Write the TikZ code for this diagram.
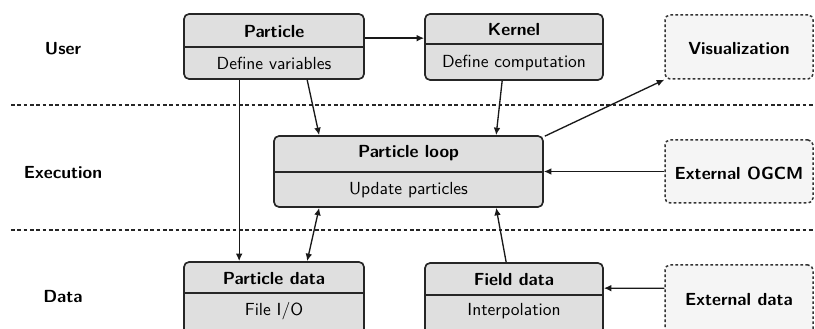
\documentclass[tikz,border=0pt]{standalone}
\usetikzlibrary{calc,arrows.meta}
\begin{document}
\begin{tikzpicture}[x=0.6pt,y=-0.6pt,
  mainbox/.style={draw=black!85,line width=1pt,rounded corners=3pt,fill=gray!25,inner sep=0pt},
  extbox/.style={draw=black!80,line width=0.9pt,dash pattern=on 1.6pt off 1.4pt,rounded corners=3pt,fill=gray!8,inner sep=0pt},
  divider/.style={draw=black!85,line width=1pt},
  title/.style={font=\fontsize{10.5}{12}\selectfont\sffamily\bfseries,inner sep=0pt},
  sub/.style={font=\fontsize{10.5}{12}\selectfont\sffamily,inner sep=0pt},
  lane/.style={font=\fontsize{10.5}{12}\selectfont\sffamily\bfseries,inner sep=0pt},
  sep/.style={draw=black!85,line width=0.8pt,dash pattern=on 2.2pt off 1.6pt},
  arr/.style={draw=black!90,line width=0.8pt,-{Latex[length=4.5pt,width=4pt]}},
  darr/.style={draw=black!90,line width=0.8pt,{Latex[length=4.5pt,width=4pt]}-{Latex[length=4.5pt,width=4pt]}}
]
\useasboundingbox (0,0) rectangle (815,329);

% lane separators
\coordinate (s1l) at (11,105); \coordinate (s1r) at (815,105);
\coordinate (s2l) at (11,230); \coordinate (s2r) at (815,230);
\draw[sep] (s1l) -- (s1r);
\draw[sep] (s2l) -- (s2r);

% lane labels
\node[lane] (luser) at (63,49) {User};
\node[lane] (lexec) at (63,173) {Execution};
\node[lane] (ldata) at (63,297) {Data};

% main boxes
\node[mainbox,minimum width=180*0.6pt,minimum height=65*0.6pt] (particle) at (274,46.5) {};
\draw[divider] (particle.west |- 0,47) -- (particle.east |- 0,47);
\node[title] (particle-t) at (274,32) {Particle};
\node[sub] (particle-s) at (274,63) {Define variables};

\node[mainbox,minimum width=178*0.6pt,minimum height=66*0.6pt] (kernel) at (514,47) {};
\draw[divider] (kernel.west |- 0,44) -- (kernel.east |- 0,44);
\node[title] (kernel-t) at (514,30) {Kernel};
\node[sub] (kernel-s) at (514,63) {Define computation};

\node[mainbox,minimum width=269*0.6pt,minimum height=71*0.6pt] (loop) at (408.5,171.5) {};
\draw[divider] (loop.west |- 0,172) -- (loop.east |- 0,172);
\node[title] (loop-t) at (408.5,153) {Particle loop};
\node[sub] (loop-s) at (408.5,190) {Update particles};

\node[mainbox,minimum width=180*0.6pt,minimum height=72*0.6pt] (pdata) at (274,298) {};
\draw[divider] (pdata.west |- 0,293) -- (pdata.east |- 0,293);
\node[title] (pdata-t) at (274,279) {Particle data};
\node[sub] (pdata-s) at (274,311) {File I/O};

\node[mainbox,minimum width=178*0.6pt,minimum height=72*0.6pt] (fdata) at (514,299) {};
\draw[divider] (fdata.west |- 0,295) -- (fdata.east |- 0,295);
\node[title] (fdata-t) at (514,280) {Field data};
\node[sub] (fdata-s) at (514,311) {Interpolation};

% external boxes
\node[extbox,minimum width=148*0.6pt,minimum height=64*0.6pt] (vis) at (739,47) {};
\node[title] (vis-t) at (739,49) {Visualization};
\node[extbox,minimum width=148*0.6pt,minimum height=63*0.6pt] (ogcm) at (739,171.5) {};
\node[title] (ogcm-t) at (739,173) {External OGCM};
\node[extbox,minimum width=148*0.6pt,minimum height=70*0.6pt] (extdata) at (739,300) {};
\node[title] (extdata-t) at (739,300) {External data};

% connectors
\draw[arr] ($(particle.north east)+(0,25)$) -- ($(kernel.north west)+(0,25)$);
\draw[arr] ($(particle.south west)+(56,0)$) -- ($(pdata.north west)+(56,0)$);
\draw[arr] ($(particle.south west)+(124,0)$) -- ($(loop.north west)+(46,0)$);
\draw[arr] ($(kernel.south west)+(78,0)$) -- ($(loop.north west)+(223,0)$);
\draw[arr] ($(loop.north east)+(1,1)$) -- (vis.south west);
\draw[arr] (ogcm.west) -- (loop.east);
\draw[darr] ($(loop.south west)+(46,0)$) -- ($(pdata.north west)+(124,0)$);
\draw[arr] ($(fdata.north west)+(82,0)$) -- ($(loop.south west)+(223,0)$);
\draw[arr] ($(extdata.north west)+(0,24)$) -- ($(fdata.north east)+(0,26)$);
\end{tikzpicture}
\end{document}
